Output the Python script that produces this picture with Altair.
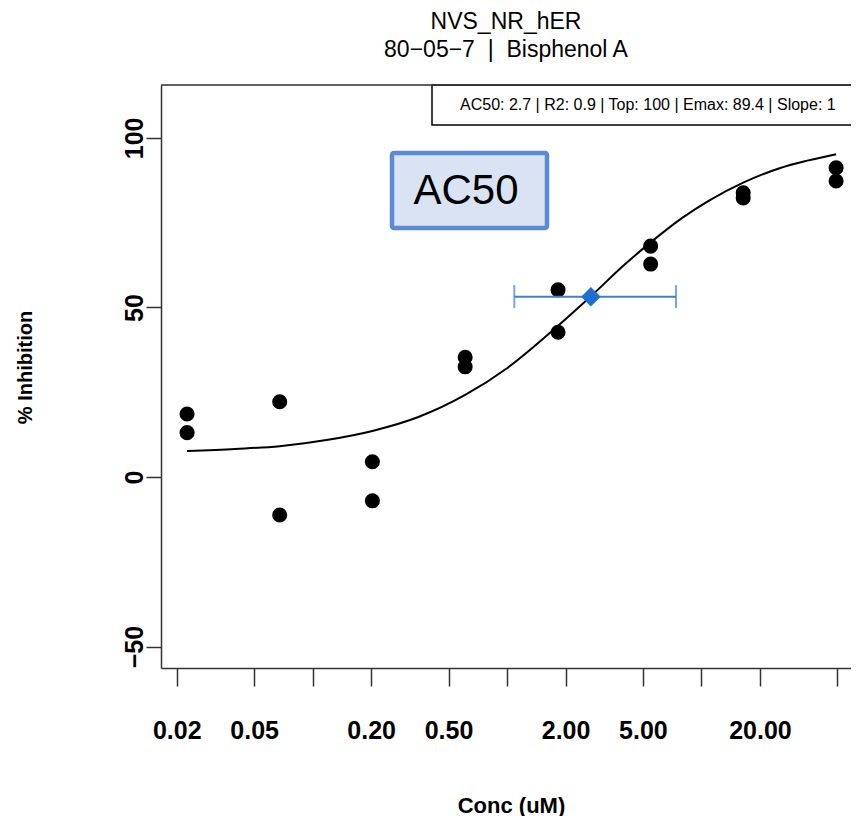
import altair as alt
import pandas as pd

# ---------------- data ----------------
conc = [0.0226, 0.0677, 0.203, 0.609, 1.83, 5.48, 16.4, 49.3]
resp_rep1 = [18.6, 22.2, 4.5, 35.3, 55.2, 68.1, 83.8, 91.2]
resp_rep2 = [13.1, -11.2, -7.0, 32.5, 42.7, 62.8, 82.3, 87.3]

curve_conc = [0.0226, 0.04, 0.0677, 0.12, 0.203, 0.35, 0.609, 1.0, 1.83,
              2.7, 4.0, 5.48, 8.0, 11.0, 16.4, 25.0, 35.0, 49.3]
curve_resp = [7.7, 8.3, 9.1, 11.0, 13.6, 17.7, 24.2, 32.1, 44.6,
              53.3, 62.5, 69.2, 76.5, 81.6, 86.8, 91.0, 93.3, 95.2]

ac50_val = [2.7]
ac50_resp = [53.2]
ac50_low = [1.09]
ac50_high = [7.4]

x_tick_values = [0.02, 0.05, 0.1, 0.2, 0.5, 1, 2, 5, 10, 20, 50]
x_tick_labels = ["0.02", "0.05", "", "0.20", "0.50", "", "2.00", "5.00", "", "20.00", ""]
y_tick_values = [-50, 0, 50, 100]

NB = "\u00a0"
title_lines = ["NVS_NR_hER", f"80\u221205\u22127{NB}{NB}|{NB}{NB}Bisphenol A"]
legend_text = ["AC50: 2.7 | R2: 0.9 | Top: 100 | Emax: 89.4 | Slope: 1"]
callout_text = ["AC50"]

# ---------------- tables ----------------
pts = pd.DataFrame({
    "conc": conc + conc,
    "resp": resp_rep1 + resp_rep2,
})
curve = pd.DataFrame({"conc": curve_conc, "resp": curve_resp})
ac50 = pd.DataFrame({"conc": ac50_val, "resp": ac50_resp,
                     "lo": ac50_low, "hi": ac50_high})
ends = pd.DataFrame({"conc": ac50_low + ac50_high,
                     "resp": ac50_resp + ac50_resp})

FONT = "Liberation Sans"
W, H = 690, 583
LOG_LEFT = -1.78
PX_PER_DECADE = 194.4
x_dom = [10 ** LOG_LEFT, 10 ** (LOG_LEFT + W / PX_PER_DECADE)]
y_dom = [-56.3, 115.6]

label_expr = "''"
for v, l in reversed(list(zip(x_tick_values, x_tick_labels))):
    label_expr = f"(abs(datum.value - {v}) < {v}*1e-6) ? '{l}' : ({label_expr})"

xscale = alt.Scale(type="log", domain=x_dom, nice=False, zero=False)
yscale = alt.Scale(domain=y_dom, nice=False, zero=False)

x_axis = alt.Axis(
    values=x_tick_values, labelExpr=label_expr,
    labelFont=FONT, labelFontSize=25, labelFontWeight="bold", labelColor="black",
    labelBaseline="top", labelPadding=32, labelFlush=False, labelOverlap=False,
    tickSize=18, tickColor="#333333", tickWidth=1.5,
    domain=True, domainColor="#333333", domainWidth=1.5, grid=False,
    title="Conc (uM)", titleFont=FONT, titleFontSize=22, titleFontWeight="bold",
    titleColor="black", titleX=350, titleY=137, titleAlign="center",
    titleBaseline="middle", titleAnchor="start",
)
y_axis = alt.Axis(
    values=y_tick_values, format="d",
    labelFont=FONT, labelFontSize=25, labelFontWeight="bold", labelColor="black",
    labelAngle=270, labelAlign="center", labelBaseline="alphabetic",
    labelPadding=4, labelFlush=False, labelOverlap=False,
    tickSize=15, tickColor="#333333", tickWidth=1.5,
    domain=True, domainColor="#333333", domainWidth=1.5, grid=False,
    title="% Inhibition", titleFont=FONT, titleFontSize=20, titleFontWeight="bold",
    titleColor="black", titleAngle=270, titleX=-136, titleY=282,
    titleAlign="center", titleBaseline="middle", titleAnchor="start",
)

X = alt.X("conc:Q", scale=xscale, axis=x_axis)
Y = alt.Y("resp:Q", scale=yscale, axis=y_axis)

line = alt.Chart(curve).mark_line(color="black", strokeWidth=2,
                                  interpolate="monotone").encode(x=X, y=Y)

points = alt.Chart(pts).mark_circle(color="black", size=227,
                                    opacity=1).encode(
    x=alt.X("conc:Q", scale=xscale), y=alt.Y("resp:Q", scale=yscale))

err = alt.Chart(ac50).mark_rule(color="#3b82d6", strokeWidth=2).encode(
    x=alt.X("lo:Q", scale=xscale), x2="hi:Q", y=alt.Y("resp:Q", scale=yscale))

caps = alt.Chart(ends).mark_tick(color="#3b82d6", thickness=2, size=23,
                                 orient="vertical").encode(
    x=alt.X("conc:Q", scale=xscale), y=alt.Y("resp:Q", scale=yscale))

diamond = alt.Chart(ac50).mark_point(shape="diamond", filled=True, size=380,
                                     color="#1f6fd1", opacity=1).encode(
    x=alt.X("conc:Q", scale=xscale), y=alt.Y("resp:Q", scale=yscale))

# annotation: AC50 callout box
callout_df = pd.DataFrame({"t": callout_text})
callout_box = alt.Chart(callout_df).mark_rect(
    fill="#dae3f3", stroke="#5b8bd3", strokeWidth=4.5, cornerRadius=2
).encode(x=alt.value(231), x2=alt.value(386), y=alt.value(68), y2=alt.value(143))
callout_label = alt.Chart(callout_df).mark_text(
    font=FONT, fontSize=42, color="black", align="center", baseline="middle"
).encode(x=alt.value(305), y=alt.value(106), text="t:N")

# legend box (top right)
legend_df = pd.DataFrame({"t": legend_text})
legend_box = alt.Chart(legend_df).mark_rect(
    fill="white", stroke="black", strokeWidth=1.5
).encode(x=alt.value(271), x2=alt.value(W + 2), y=alt.value(0), y2=alt.value(40))
legend_label = alt.Chart(legend_df).mark_text(
    font=FONT, fontSize=16, color="black", align="left", baseline="middle"
).encode(x=alt.value(299), y=alt.value(20), text="t:N")

# top frame line
top_rule = alt.Chart(legend_df).mark_rule(color="#333333", strokeWidth=1.5).encode(
    x=alt.value(0), x2=alt.value(W), y=alt.value(0))

chart = alt.layer(
    line, points, err, caps, diamond, callout_box, callout_label,
    legend_box, legend_label, top_rule
).properties(
    width=W, height=H,
    title=alt.TitleParams(
        text=title_lines, font=FONT, fontSize=23, fontWeight="normal",
        color="black", anchor="middle", frame="group", offset=22, lineHeight=28,
    ),
    autosize=alt.AutoSizeParams(type="none"),
    padding={"left": 153, "top": 77, "right": 0, "bottom": 148},
).configure_view(stroke=None).configure(background="white")

chart.save("out.html", embed_options={"renderer": "svg", "actions": False})
